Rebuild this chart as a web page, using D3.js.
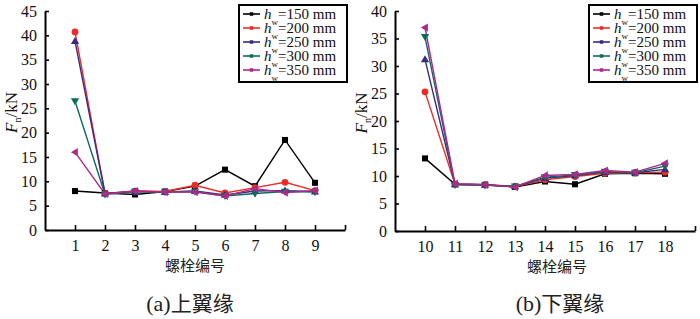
<!DOCTYPE html>
<html><head><meta charset="utf-8">
<script src="https://cdn.jsdelivr.net/npm/d3@7"></script>
<style>body{margin:0;background:#fff}svg{display:block}</style>
</head><body>
<svg id="c" width="700" height="319"></svg>
<script>
const seriesNames = ["150", "200", "250", "300", "350"];
const seriesColors = ["#000000", "#ee2b25", "#3b2a85", "#0b6b5d", "#b0288c"];
const seriesMarkers = ["square", "circle", "triUp", "triDown", "triLeft"];

const boltsTop = [1, 2, 3, 4, 5, 6, 7, 8, 9];
const top150 = [8.0, 7.6, 7.3, 7.9, 9.0, 12.4, 9.0, 18.5, 9.7];
const top200 = [40.7, 7.5, 8.0, 7.9, 9.2, 7.6, 8.7, 9.8, 8.1];
const top250 = [38.8, 7.5, 7.9, 7.8, 8.0, 7.2, 8.0, 8.1, 7.9];
const top300 = [26.5, 7.3, 7.9, 7.8, 7.9, 7.0, 7.5, 7.9, 7.8];
const top350 = [16.0, 7.4, 8.0, 7.8, 7.8, 7.0, 8.5, 7.7, 8.1];

const boltsBot = [10, 11, 12, 13, 14, 15, 16, 17, 18];
const bot150 = [13.2, 8.5, 8.4, 8.0, 9.0, 8.5, 10.4, 10.5, 10.4];
const bot200 = [25.3, 8.5, 8.4, 8.1, 9.3, 9.9, 10.5, 10.6, 10.7];
const bot250 = [31.2, 8.5, 8.4, 8.1, 9.6, 10.1, 10.7, 10.6, 11.2];
const bot300 = [35.3, 8.4, 8.3, 8.1, 9.8, 10.2, 10.8, 10.6, 11.8];
const bot350 = [37.0, 8.6, 8.4, 8.0, 10.1, 10.3, 11.0, 10.7, 12.3];

const yTicksTop = [0, 5, 10, 15, 20, 25, 30, 35, 40, 45];
const yTicksBot = [0, 5, 10, 15, 20, 25, 30, 35, 40];

const svg = d3.select("#c");
const serif = "'Liberation Serif','DejaVu Serif','Times New Roman',serif";
const cjk = "'Noto Sans CJK SC',sans-serif";

function marker(g, type, x, y, color, s) {
  if (type === "square") {
    g.append("rect").attr("x", x - s*0.55).attr("y", y - s*0.55).attr("width", s*1.1).attr("height", s*1.1).attr("fill", color);
  } else if (type === "circle") {
    g.append("circle").attr("cx", x).attr("cy", y).attr("r", s*0.62).attr("fill", color);
  } else {
    let pts;
    const r = s*0.75;
    if (type === "triUp") pts = [[x, y - r], [x - r, y + r*0.7], [x + r, y + r*0.7]];
    else if (type === "triDown") pts = [[x, y + r], [x - r, y - r*0.7], [x + r, y - r*0.7]];
    else pts = [[x - r, y], [x + r*0.7, y - r], [x + r*0.7, y + r]];
    g.append("polygon").attr("points", pts.map(p => p.join(",")).join(" ")).attr("fill", color);
  }
}

function panel(opt) {
  const g = svg.append("g");
  const x = d3.scaleLinear().domain(opt.xDomain).range([opt.left, opt.right]);
  const y = d3.scaleLinear().domain(opt.yDomain).range([opt.bottom, opt.top]);

  opt.series.forEach((vals, i) => {
    const line = d3.line().x((d, j) => x(opt.bolts[j])).y(d => y(d));
    g.append("path").datum(vals).attr("d", line).attr("fill", "none")
      .attr("stroke", seriesColors[i]).attr("stroke-width", 1.4);
  });
  opt.series.forEach((vals, i) => {
    vals.forEach((v, j) => marker(g, seriesMarkers[i], x(opt.bolts[j]), y(v), seriesColors[i], 5.5));
  });

  const xAxis = d3.axisBottom(x).tickValues(opt.bolts.concat([opt.xDomain[1]])).tickSizeInner(-5).tickSizeOuter(0)
    .tickFormat(d => opt.bolts.includes(d) ? d : "").tickPadding(10);
  const gx = g.append("g").attr("transform", `translate(0,${opt.bottom})`).call(xAxis);
  const yAxis = d3.axisLeft(y).tickValues(opt.yTicks).tickSizeInner(-4).tickSizeOuter(0).tickPadding(8);
  const gy = g.append("g").attr("transform", `translate(${opt.left},0)`).call(yAxis);
  [gx, gy].forEach(a => {
    a.attr("font-family", null);
    a.selectAll("path").attr("stroke", "#000").attr("stroke-width", 2);
    a.selectAll("line").attr("stroke", "#000").attr("stroke-width", 1.6);
    a.selectAll("text").style("font-family", serif).attr("font-size", 16).attr("fill", "#111");
  });

  const yl = g.append("text").attr("transform", `translate(${opt.left - 28},${(opt.top + opt.bottom) / 2 - 8}) rotate(-90)`)
    .attr("text-anchor", "middle").style("font-family", serif).attr("font-size", 17).attr("fill", "#111");
  yl.append("tspan").attr("font-style", "italic").text("F");
  yl.append("tspan").attr("font-size", 10).attr("dy", 4).text("n");
  yl.append("tspan").attr("dy", -4).text("/kN");

  g.append("text").attr("x", opt.xlabelX).attr("y", opt.bottom + 41).attr("text-anchor", "middle")
    .style("font-family", cjk).attr("font-size", 15).attr("fill", "#222").text("螺栓编号");

  const cap = g.append("text").attr("x", opt.capX).attr("y", 311).attr("text-anchor", "middle")
    .attr("font-size", 22).attr("fill", "#222");
  cap.append("tspan").style("font-family", serif).text(opt.capA);
  cap.append("tspan").style("font-family", cjk).attr("font-size", 21).text(opt.capB);

  const lg = g.append("g").attr("transform", `translate(${opt.legX},5)`);
  lg.append("rect").attr("x", 0).attr("y", 0).attr("width", 108).attr("height", 77)
    .attr("fill", "#fff").attr("stroke", "#000").attr("stroke-width", 2);
  seriesNames.forEach((n, i) => {
    const cy = 9 + i * 14;
    lg.append("line").attr("x1", 4).attr("x2", 21).attr("y1", cy).attr("y2", cy)
      .attr("stroke", seriesColors[i]).attr("stroke-width", 1.6);
    marker(lg, "square", 12.5, cy, seriesColors[i], 3.2);
    const t = lg.append("text").attr("x", 25).attr("y", cy + 5).style("font-family", serif)
      .attr("font-size", 15).attr("fill", "#111");
    t.append("tspan").attr("font-style", "italic").text("h");
    t.append("tspan").attr("font-size", 9).attr("dy", 6).text("w");
    t.append("tspan").attr("dy", -6).text("=" + n + " mm");
  });
}

panel({
  left: 45, right: 345, top: 11, bottom: 230, xDomain: [0, 10], yDomain: [0, 45],
  bolts: boltsTop, series: [top150, top200, top250, top300, top350], yTicks: yTicksTop,
  xlabelX: 195, capX: 190, capA: "(a)", capB: "上翼缘", legX: 239
});
panel({
  left: 395, right: 695, top: 11, bottom: 231, xDomain: [9, 19], yDomain: [0, 40],
  bolts: boltsBot, series: [bot150, bot200, bot250, bot300, bot350], yTicks: yTicksBot,
  xlabelX: 557, capX: 560, capA: "(b)", capB: "下翼缘", legX: 589
});
</script>
</body></html>
